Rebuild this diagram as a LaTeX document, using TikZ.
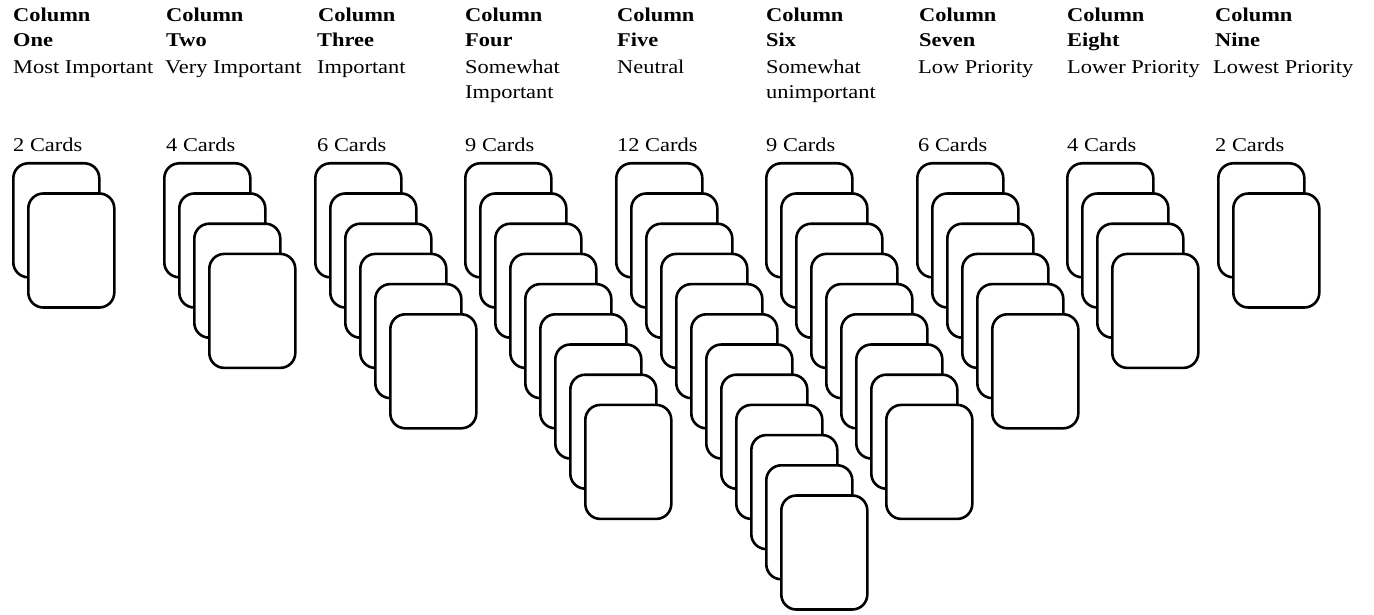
\documentclass[tikz,border=0pt]{standalone}
\usepackage{fontspec}
\setmainfont[FakeStretch=1.15]{Liberation Serif}
\begin{document}
\begin{tikzpicture}[x=1pt,y=-1pt,
  card/.style={draw=black, fill=white, line width=2.6pt, rounded corners=15pt,
    minimum width=86pt, minimum height=114pt, inner sep=0pt, anchor=north west},
  lbl/.style={anchor=base west, inner sep=0pt, font=\fontsize{19.5}{24}\selectfont},
  ttl/.style={lbl, font=\fontsize{19.5}{24}\selectfont\bfseries}]
\useasboundingbox (0,0) rectangle (1374,615);
\fill[white] (0,0) rectangle (1374,615);
% headers
\node[ttl] (t1a) at (13,22) {Column};   \node[ttl] (t1b) at (13,47) {One};
\node[lbl] (d1a) at (13,74) {Most Important};
\node[lbl] (c1) at (13,152) {2 Cards};
\node[ttl] (t2a) at (166,22) {Column};  \node[ttl] (t2b) at (166,47) {Two};
\node[lbl] (d2a) at (165,74) {Very Important};
\node[lbl] (c2) at (166,152) {4 Cards};
\node[ttl] (t3a) at (318,22) {Column};  \node[ttl] (t3b) at (317,47) {Three};
\node[lbl] (d3a) at (317,74) {Important};
\node[lbl] (c3) at (317,152) {6 Cards};
\node[ttl] (t4a) at (465,22) {Column};  \node[ttl] (t4b) at (465,47) {Four};
\node[lbl] (d4a) at (465,74) {Somewhat};
\node[lbl] (d4b) at (465,99) {Important};
\node[lbl] (c4) at (465,152) {9 Cards};
\node[ttl] (t5a) at (617,22) {Column};  \node[ttl] (t5b) at (617,47) {Five};
\node[lbl] (d5a) at (617,74) {Neutral};
\node[lbl] (c5) at (617,152) {12 Cards};
\node[ttl] (t6a) at (766,22) {Column};  \node[ttl] (t6b) at (766,47) {Six};
\node[lbl] (d6a) at (766,74) {Somewhat};
\node[lbl] (d6b) at (766,99) {unimportant};
\node[lbl] (c6) at (766,152) {9 Cards};
\node[ttl] (t7a) at (919,22) {Column};  \node[ttl] (t7b) at (919,47) {Seven};
\node[lbl] (d7a) at (918,74) {Low Priority};
\node[lbl] (c7) at (918,152) {6 Cards};
\node[ttl] (t8a) at (1067,22) {Column}; \node[ttl] (t8b) at (1067,47) {Eight};
\node[lbl] (d8a) at (1067,74) {Lower Priority};
\node[lbl] (c8) at (1067,152) {4 Cards};
\node[ttl] (t9a) at (1215,22) {Column}; \node[ttl] (t9b) at (1215,47) {Nine};
\node[lbl] (d9a) at (1213,74) {Lowest Priority};
\node[lbl] (c9) at (1215,152) {2 Cards};
% card stacks
\foreach \i/\cx/\n in {1/12/2, 2/163/4, 3/314/6, 4/464/9, 5/615/12, 6/765/9, 7/916/6, 8/1066/4, 9/1217/2}{
  \foreach \j in {1,...,\n}{
    \node[card] (card\i-\j) at ({\cx+15*(\j-1)},{162+30.2*(\j-1)}) {};
  }
}
\end{tikzpicture}
\end{document}
